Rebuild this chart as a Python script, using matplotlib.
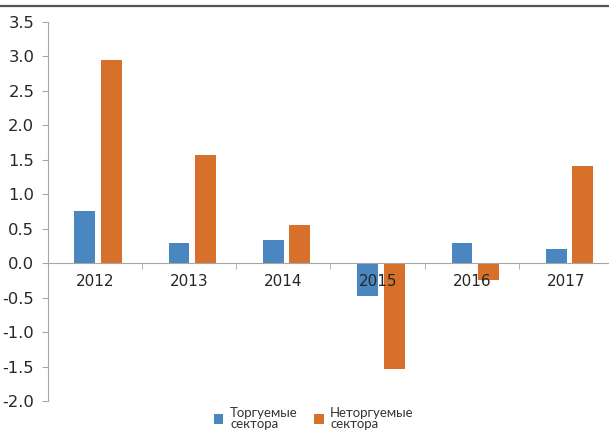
import matplotlib.pyplot as plt
import matplotlib.lines as mlines
import numpy as np

# ── Data ──────────────────────────────────────────────────────────────────────
years = ["2012", "2013", "2014", "2015", "2016", "2017"]
tradable = [0.75, 0.29, 0.34, -0.48, 0.29, 0.20]
nontradable = [2.94, 1.57, 0.55, -1.54, -0.25, 1.41]
series_labels = ["Торгуемые\nсектора", "Неторгуемые\nсектора"]
yticks = np.arange(-2.0, 3.51, 0.5)

BLUE = "#4A86BF"
ORANGE = "#D6702A"
AXIS_GREY = "#A6A6A6"

plt.rcParams["font.family"] = ["DejaVu Sans"]

fig = plt.figure(figsize=(6.09, 4.34), dpi=100)
ax = fig.add_axes([0.078, 0.076, 0.920, 0.874])
ax.set_axisbelow(False)  # year labels sit on top of the negative bars

x = np.arange(len(years))
width = 0.22
ax.bar(x - 0.105, tradable, width, color=BLUE, label=series_labels[0], zorder=1)
ax.bar(x + 0.175, nontradable, width, color=ORANGE, label=series_labels[1], zorder=1)

ax.set_xlim(-0.5, 5.44)
ax.set_ylim(-2.0, 3.5)
ax.set_yticks(yticks)
ax.set_yticklabels([f"{v:.1f}" for v in yticks])

# x axis sits on zero, ticks between categories
ax.spines["bottom"].set_position(("data", 0))
ax.spines["bottom"].set_color(AXIS_GREY)
ax.spines["left"].set_color(AXIS_GREY)
ax.spines["top"].set_visible(False)
ax.spines["right"].set_visible(False)

ax.set_xticks(x)
ax.set_xticklabels(years)
ax.set_xticks(np.arange(0.5, 5.0, 1.0), minor=True)
ax.tick_params(axis="x", which="major", length=0, pad=8, labelsize=11, labelcolor="#262626")
ax.tick_params(axis="x", which="minor", length=4, color=AXIS_GREY, direction="out")
ax.tick_params(axis="y", length=4.5, color=AXIS_GREY, pad=5, labelsize=11.8, labelcolor="#262626")

# legend below the plot
leg = fig.legend(loc="lower center", bbox_to_anchor=(0.515, -0.012), ncol=2, frameon=False,
                 handlelength=0.75, handleheight=0.75, handletextpad=0.5,
                 columnspacing=1.2, prop={"family": "Lato", "size": 9.5},
                 labelspacing=0.2, borderpad=0.2)
for t in leg.get_texts():
    t.set_color("#333333")
    t.set_linespacing(0.9)

# dark rule across the top
fig.add_artist(mlines.Line2D([0, 0.998], [0.987, 0.987], color="#555555",
                             linewidth=1.6, transform=fig.transFigure))

fig.savefig("out.png", dpi=100)
